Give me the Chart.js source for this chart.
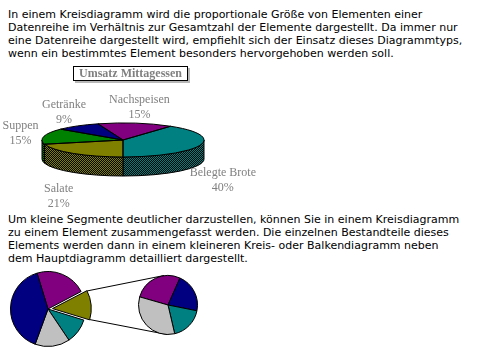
<!DOCTYPE html>
<html><head><meta charset="utf-8">
<script src="https://cdn.jsdelivr.net/npm/chart.js@4"></script>
<style>
html,body{margin:0;padding:0;background:#fff;width:497px;height:356px;overflow:hidden;position:relative}
.txt{position:absolute;left:8px;font:11px "DejaVu Sans",Verdana,sans-serif;line-height:13px;color:#000;white-space:nowrap}
#title{position:absolute;left:73px;top:66px;width:113px;height:13px;border:1px solid #000;box-shadow:2px 2px 0 #b8b8b8;background:#fff;
 font:bold 12px "Liberation Serif","Times New Roman",serif;color:#808080;text-align:center;line-height:13px}
canvas{position:absolute}
</style></head>
<body>
<div class="txt" style="top:8px">In einem Kreisdiagramm wird die proportionale Größe von Elementen einer<br>Datenreihe im Verhältnis zur Gesamtzahl der Elemente dargestellt. Da immer nur<br>eine Datenreihe dargestellt wird, empfiehlt sich der Einsatz dieses Diagrammtyps,<br>wenn ein bestimmtes Element besonders hervorgehoben werden soll.</div>
<div class="txt" style="top:213px">Um kleine Segmente deutlicher darzustellen, können Sie in einem Kreisdiagramm<br>zu einem Element zusammengefasst werden. Die einzelnen Bestandteile dieses<br>Elements werden dann in einem kleineren Kreis- oder Balkendiagramm neben<br>dem Hauptdiagramm detailliert dargestellt.</div>
<canvas id="c1" width="260" height="150" style="left:0;top:62px"></canvas>
<div id="title"></div>
<canvas id="link" width="497" height="96" style="left:0;top:260px;z-index:0"></canvas>
<canvas id="c2" width="100" height="96" style="left:0;top:260px;z-index:1"></canvas>
<canvas id="c3" width="76" height="72" style="left:130px;top:270px;z-index:1"></canvas>
<script>
// ---- data: 3D pie ----
const pieTitle = 'Umsatz Mittagessen';
const categories = ['Belegte Brote', 'Salate', 'Suppen', 'Getränke', 'Nachspeisen'];
const shares = [40, 21, 15, 9, 15];
const pieColors = ['#008080', '#808000', '#008000', '#000080', '#800080'];

// ---- data: pie of pie (illustration) ----
const mainSlices = ['A', 'Andere', 'B', 'C', 'D'];
const mainValues = [22, 12.5, 10.8, 15, 39.7];
const mainColors = ['#800080', '#808000', '#008080', '#c0c0c0', '#000080'];
const otherIndex = 1;
const subSlices = ['E', 'F', 'G', 'H'];
const subValues = [27.2, 21.5, 18.2, 33.1];
const subColors = ['#800080', '#000080', '#008080', '#c0c0c0'];

document.getElementById('title').textContent = pieTitle;

const WIDEN = 1.125, TILT = 0.236, DEPTH = 0.264;
function dither(ctx, color) {
  const c = document.createElement('canvas'); c.width = 2; c.height = 2;
  const x = c.getContext('2d');
  x.fillStyle = color; x.fillRect(0, 0, 2, 2);
  x.fillStyle = '#000'; x.fillRect(1, 0, 1, 1); x.fillRect(0, 1, 1, 1);
  return ctx.createPattern(c, 'repeat');
}
function geo(chart) {
  const arcs = chart.getDatasetMeta(0).data;
  const a = arcs[0];
  const r = a.outerRadius;
  return {arcs, cx: a.x, cy: a.y, rx: r * WIDEN, ry: r * TILT, d: r * DEPTH};
}
const pie3d = {
  id: 'pie3d',
  beforeDatasetsDraw(chart) {
    const ctx = chart.ctx;
    const {arcs, cx, cy, rx, ry, d} = geo(chart);
    ctx.save();
    ctx.lineWidth = 1; ctx.strokeStyle = '#000';
    arcs.forEach((arc, i) => {
      for (const base of [-2 * Math.PI, 0, 2 * Math.PI]) {
        const lo = Math.max(arc.startAngle, base), hi = Math.min(arc.endAngle, base + Math.PI);
        if (hi <= lo) continue;
        ctx.beginPath();
        ctx.ellipse(cx, cy, rx, ry, 0, lo, hi, false);
        ctx.lineTo(cx + rx * Math.cos(hi), cy + ry * Math.sin(hi) + d);
        ctx.ellipse(cx, cy + d, rx, ry, 0, hi, lo, true);
        ctx.closePath();
        ctx.fillStyle = dither(ctx, pieColors[i]);
        ctx.fill(); ctx.stroke();
      }
    });
    ctx.restore();
    ctx.save();
    ctx.translate(cx, cy); ctx.scale(WIDEN, TILT); ctx.translate(-cx, -cy);
  },
  afterDatasetsDraw(chart) {
    const ctx = chart.ctx;
    ctx.restore();
    const {arcs, cx, cy, rx, ry, d} = geo(chart);
    ctx.save();
    ctx.lineWidth = 1; ctx.strokeStyle = '#000';
    arcs.forEach(arc => {
      ctx.beginPath();
      ctx.moveTo(cx, cy);
      ctx.ellipse(cx, cy, rx, ry, 0, arc.startAngle, arc.endAngle, false);
      ctx.closePath();
      ctx.stroke();
    });
    ctx.fillStyle = '#808080';
    ctx.font = '12px "Liberation Serif", "Times New Roman", serif';
    ctx.textAlign = 'center'; ctx.textBaseline = 'middle';
    arcs.forEach((arc, i) => {
      const m = (arc.startAngle + arc.endAngle) / 2;
      const s = Math.sin(m);
      const x = cx + (rx + 24) * Math.cos(m);
      const y = cy + (ry + 17) * s + (s > 0 ? d + 10 : 0);
      ctx.fillText(categories[i], x, y - 7);
      ctx.fillText(shares[i] + '%', x, y + 8);
    });
    ctx.restore();
  }
};

const noUi = {legend: {display: false}, tooltip: {enabled: false}, title: {display: false}};

new Chart(document.getElementById('c1'), {
  type: 'pie',
  data: {labels: categories, datasets: [{data: shares, backgroundColor: pieColors, borderWidth: 0, hoverOffset: 0, clip: false}]},
  options: {responsive: false, animation: false, events: [], rotation: 36,
    layout: {padding: {left: 51, right: 65, top: 6, bottom: 0}}, plugins: noUi},
  plugins: [pie3d]
});

const mainChart = new Chart(document.getElementById('c2'), {
  type: 'pie',
  data: {labels: mainSlices, datasets: [{data: mainValues, backgroundColor: mainColors, borderColor: '#000', borderWidth: 1,
    hoverBorderWidth: 1, hoverOffset: 0, offset: mainValues.map((v, i) => i === otherIndex ? 18 : 0)}]},
  options: {responsive: false, animation: false, events: [], rotation: -17,
    layout: {padding: {left: 1, right: 5, top: 2, bottom: 0}}, plugins: noUi}
});

const subChart = new Chart(document.getElementById('c3'), {
  type: 'pie',
  data: {labels: subSlices, datasets: [{data: subValues, backgroundColor: subColors, borderColor: '#000', borderWidth: 1,
    hoverBorderWidth: 1, hoverOffset: 0}]},
  options: {responsive: false, animation: false, events: [], rotation: -74,
    layout: {padding: {left: 8, right: 8, top: 5, bottom: 7}}, plugins: noUi}
});

// connector lines between the exploded slice and the secondary pie
(function () {
  const link = document.getElementById('link');
  const lc = link.getContext('2d');
  const arc = mainChart.getDatasetMeta(0).data[otherIndex];
  const off = arc.options.offset || 0;
  const circ = arc.endAngle - arc.startAngle;
  const mid = (arc.startAngle + arc.endAngle) / 2;
  const shift = off / 4 + (off / 4) * (1 - Math.sin(Math.min(Math.PI, circ)));
  const mx = mainChart.canvas.offsetLeft - link.offsetLeft + arc.x + shift * Math.cos(mid);
  const my = mainChart.canvas.offsetTop - link.offsetTop + arc.y + shift * Math.sin(mid);
  const R = arc.outerRadius;
  const s = subChart.getDatasetMeta(0).data[0];
  const sx = subChart.canvas.offsetLeft - link.offsetLeft + s.x;
  const sy = subChart.canvas.offsetTop - link.offsetTop + s.y;
  const sr = s.outerRadius;
  lc.strokeStyle = '#000'; lc.lineWidth = 1;
  lc.beginPath();
  lc.moveTo(mx + R * Math.cos(arc.startAngle), my + R * Math.sin(arc.startAngle));
  lc.lineTo(sx - 4, sy - sr);
  lc.moveTo(mx + R * Math.cos(arc.endAngle), my + R * Math.sin(arc.endAngle));
  lc.lineTo(sx - 1, sy + sr);
  lc.stroke();
})();
</script>
</body></html>
